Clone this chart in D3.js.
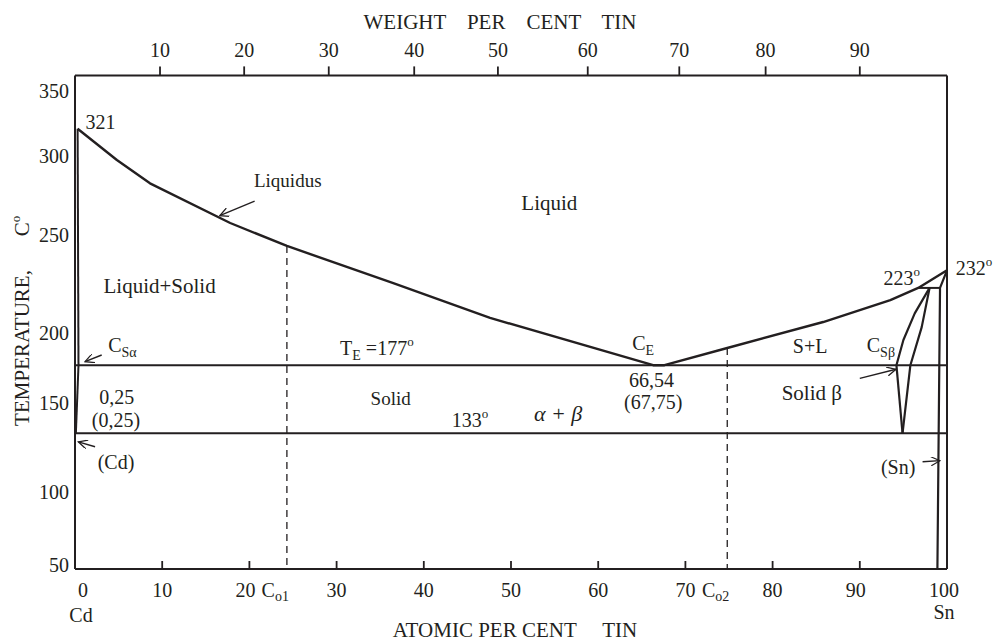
<!DOCTYPE html>
<html><head><meta charset="utf-8">
<script src="https://cdn.jsdelivr.net/npm/d3@7"></script>
<style>
html,body{margin:0;padding:0;background:#fff;}
svg text{font-family:"Liberation Serif","Times New Roman",serif;fill:#231f20;}
</style></head><body>
<svg id="chart" width="996" height="642"></svg>
<script>
// ---- data (atomic % Sn, temperature °C) ----
const atomicTicks = [0,10,20,30,40,50,60,70,80,90,100];
const weightTickLabels = [10,20,30,40,50,60,70,80,90];
const weightTickAtomic = [9.75,19.4,29.1,38.9,48.5,58.8,69.3,79.2,90.0];
const tempTicks = [50,100,150,200,250,300,350];
const tempTop = 362;

const liquidus = [[0.3,321],[4.8,297.5],[8.6,282.7],[17.8,257.6],[24.3,244.4],[36.5,225.5],[47.6,207.7],[66.3,177],[67.6,177],[74.8,189.3],[85.8,205.6],[93.5,216.8],[96.7,223],[100,232]];
const cdSolidus = [[0.3,321],[0.4,177]];
const cdSolvus = [[0.4,177],[0.1,133]];
const snSolidus = [[100,232],[99.2,223],[98.9,50]];
const peritectic223 = [[96.7,223],[99.2,223]];
const betaSolidus = [[98.0,223],[96.3,210],[95.0,195],[94.2,177]];
const betaSolvus = [[94.2,177],[94.9,133]];
const betaRight = [[98.0,223],[97.1,203],[95.8,177],[94.9,133]];
const eutectic177 = [[0,177],[100,177]];
const line133 = [[0,133],[100,133]];
const alloys = [{name:"o1", at:24.3, t:244.4},{name:"o2", at:74.8, t:189.3}];

const arrows = [
  [[20.6,271.5],[16.6,262.2]],
  [[3.06,184.3],[1.15,179.5]],
  [[2.3,125.4],[0.38,128.2]],
  [[90.0,167.6],[94.15,174.1]],
  [[97.2,117.0],[99.2,117.6]]
];

const labels = [
 {txt:[["321"]], at:1.2, t:326, anchor:"start"},
 {txt:[["Liquidus"]], at:24.4, t:284.8, anchor:"middle", size:19},
 {txt:[["Liquid"]], at:54.4, t:270.3, anchor:"middle", size:21},
 {txt:[["Liquid+Solid"]], at:9.7, t:224, anchor:"middle", size:21},
 {txt:[["C"],["Sα","sub"]], at:3.8, t:191.4, anchor:"start"},
 {txt:[["T"],["E","sub"],[" =177"],["o","sup"]], at:30.4, t:189.3, anchor:"start"},
 {txt:[["Solid"]], at:36.2, t:153.6, anchor:"middle", size:19},
 {txt:[["0,25"]], at:4.8, t:154.3, anchor:"middle"},
 {txt:[["(0,25)"]], at:4.7, t:140.4, anchor:"middle"},
 {txt:[["133"],["o","sup"]], at:45.3, t:140.4, anchor:"middle"},
 {txt:[["α + β"]], at:55.4, t:144.4, anchor:"middle", italic:true, size:22},
 {txt:[["C"],["E","sub"]], at:63.9, t:192.9, anchor:"start"},
 {txt:[["66,54"]], at:66.1, t:166.4, anchor:"middle"},
 {txt:[["(67,75)"]], at:66.3, t:150.7, anchor:"middle"},
 {txt:[["S+L"]], at:84.3, t:190.7, anchor:"middle"},
 {txt:[["C"],["Sβ","sub"]], at:90.8, t:191.4, anchor:"start"},
 {txt:[["Solid β"]], at:84.5, t:157.1, anchor:"middle", size:21},
 {txt:[["223"],["o","sup"]], at:94.8, t:228.1, anchor:"middle"},
 {txt:[["232"],["o","sup"]], at:101.0, t:233.2, anchor:"start"},
 {txt:[["(Sn)"]], at:94.4, t:114.0, anchor:"middle"},
 {txt:[["(Cd)"]], at:4.7, t:116.9, anchor:"middle"}
];

// ---- drawing ----
const svg = d3.select("#chart");
const x = d3.scaleLinear().domain([0,100]).range([75,947]);
const y = d3.scaleLinear().domain(tempTicks).range([569,492,403,333,235,156,91]);
const ink = "#231f20";

svg.append("defs").append("marker")
  .attr("id","arr").attr("viewBox","0 0 10 10").attr("refX",10).attr("refY",5)
  .attr("markerWidth",11).attr("markerHeight",9).attr("markerUnits","userSpaceOnUse")
  .attr("orient","auto")
  .append("path").attr("d","M0,0 L10,5 L0,10").attr("fill","none")
  .attr("stroke",ink).attr("stroke-width",1.4);

const line = d3.line().x(d=>x(d[0])).y(d=>y(d[1]));
function path(data, w){
  return svg.append("path").datum(data).attr("d",line).attr("fill","none")
    .attr("stroke",ink).attr("stroke-width",w).attr("stroke-linejoin","round");
}

// frame
path([[0,50],[0,tempTop]],2);
path([[0,50],[100,50]],2.2);
path([[0,tempTop],[100,tempTop]],2);
path([[100,tempTop],[100,50]],2);

// bottom ticks & labels
const bottomShift = {0:8, 20:-4, 90:-4, 100:-3};
svg.selectAll(".bt").data(atomicTicks.filter(d=>d>0&&d<100)).enter().append("line")
  .attr("x1",d=>x(d)).attr("x2",d=>x(d)).attr("y1",y(50)).attr("y2",y(50)-8)
  .attr("stroke",ink).attr("stroke-width",1.8);
svg.selectAll(".bl").data(atomicTicks).enter().append("text")
  .attr("x",d=>x(d)+(bottomShift[d]||0)).attr("y",y(50)+21).attr("dy","0.35em")
  .attr("text-anchor","middle").attr("font-size",20).text(d=>d);

// top ticks & labels
svg.selectAll(".tt").data(weightTickAtomic).enter().append("line")
  .attr("x1",d=>x(d)).attr("x2",d=>x(d)).attr("y1",y(tempTop)).attr("y2",y(tempTop)-9)
  .attr("stroke",ink).attr("stroke-width",1.8);
svg.selectAll(".tl").data(weightTickLabels).enter().append("text")
  .attr("x",(d,i)=>x(weightTickAtomic[i])).attr("y",y(tempTop)-25).attr("dy","0.35em")
  .attr("text-anchor","middle").attr("font-size",20).text(d=>d);

// left labels
svg.selectAll(".ll").data(tempTicks).enter().append("text")
  .attr("x",x(0)-6).attr("y",d=>y(d)-(d===50?4:0)).attr("dy","0.35em")
  .attr("text-anchor","end").attr("font-size",20).text(d=>d);

// axis titles
svg.append("text").attr("x",500).attr("y",22).attr("dy","0.35em").attr("text-anchor","middle")
  .attr("font-size",21).style("white-space","pre").text("WEIGHT    PER    CENT    TIN");
svg.append("text").attr("x",515).attr("y",630).attr("dy","0.35em").attr("text-anchor","middle")
  .attr("font-size",21).style("white-space","pre").text("ATOMIC PER CENT     TIN");
svg.append("text").attr("transform","translate(22,348) rotate(-90)").attr("dy","0.35em")
  .attr("text-anchor","middle").attr("font-size",21).text("TEMPERATURE,");
const degC = svg.append("text").attr("transform","translate(22,226) rotate(-90)").attr("dy","0.35em")
  .attr("text-anchor","middle").attr("font-size",21);
degC.append("tspan").text("C");
degC.append("tspan").attr("font-size",13).attr("dy",-9).text("o");
svg.append("text").attr("x",x(0)+6).attr("y",615).attr("dy","0.35em").attr("text-anchor","middle")
  .attr("font-size",20).text("Cd");
svg.append("text").attr("x",x(100)-3).attr("y",612).attr("dy","0.35em").attr("text-anchor","middle")
  .attr("font-size",20).text("Sn");

// horizontal invariant lines
path(eutectic177,2);
path(line133,2);

// phase boundaries
path(liquidus,2.4);
path(cdSolidus,2);
path(cdSolvus,2);
path(snSolidus,2.2);
path(peritectic223,2);
path(betaSolidus,2.2);
path(betaSolvus,2.2);
path(betaRight,2.2);

// alloy composition dashed lines
alloys.forEach(a=>{
  svg.append("line").attr("x1",x(a.at)).attr("x2",x(a.at)).attr("y1",y(a.t)).attr("y2",y(50))
    .attr("stroke",ink).attr("stroke-width",1.3).attr("stroke-dasharray","7,5");
  const t = svg.append("text").attr("x",x(a.at)+2).attr("y",y(50)+21).attr("dy","0.35em")
    .attr("text-anchor","end").attr("font-size",20);
  t.append("tspan").text("C");
  t.append("tspan").attr("font-size",14).attr("dy",4).text(a.name);
});

// arrows
arrows.forEach(a=>{
  svg.append("path").datum(a).attr("d",line).attr("fill","none").attr("stroke",ink)
    .attr("stroke-width",1.4).attr("marker-end","url(#arr)");
});

// labels
labels.forEach(l=>{
  const t = svg.append("text").attr("x",x(l.at)).attr("y",y(l.t)).attr("dy","0.35em")
    .attr("text-anchor",l.anchor).attr("font-size",l.size||20)
    .attr("font-style",l.italic?"italic":null);
  let off = 0;
  l.txt.forEach(p=>{
    const s = t.append("tspan").text(p[0]);
    let target = 0;
    if(p[1]==="sub"){ s.attr("font-size",14); target = 5; }
    if(p[1]==="sup"){ s.attr("font-size",13); target = -9; }
    if(target-off!==0) s.attr("dy",target-off);
    off = target;
  });
});
</script>
</body></html>
